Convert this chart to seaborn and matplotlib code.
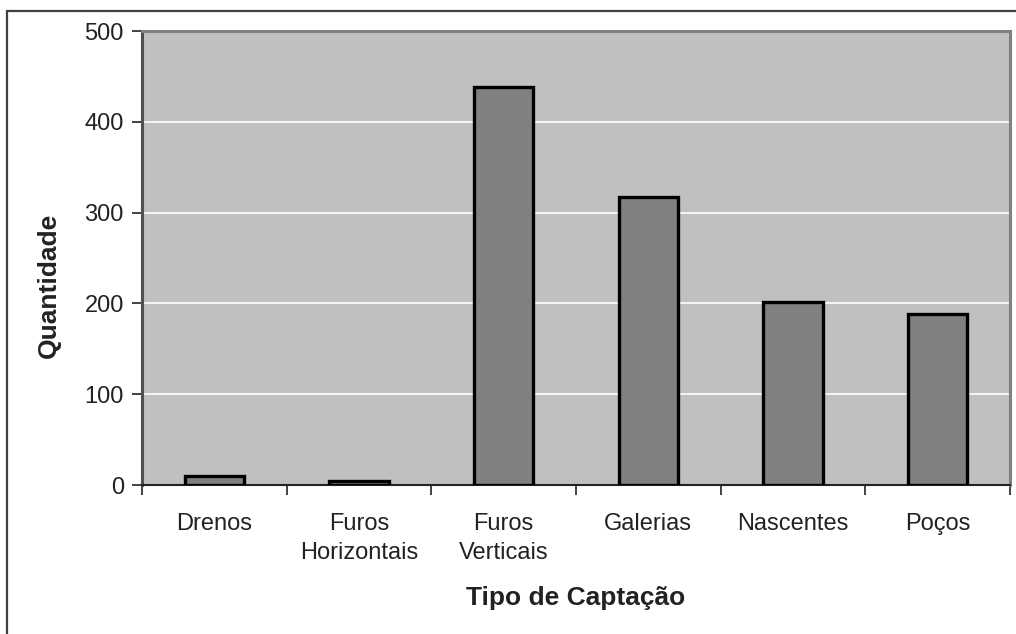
import matplotlib
matplotlib.use("Agg")
import matplotlib.pyplot as plt
import numpy as np
import pandas as pd
import seaborn as sns
from matplotlib.patches import Rectangle

categorias = ["Drenos", "Furos\nHorizontais", "Furos\nVerticais", "Galerias", "Nascentes", "Poços"]
quantidades = [10, 4, 438, 317, 202, 188]
yticks = [0, 100, 200, 300, 400, 500]

sns.set_style("white")
plt.rcParams["font.family"] = ["Liberation Sans", "DejaVu Sans"]

W, H = 1016, 634
fig = plt.figure(figsize=(W / 100, H / 100), dpi=100)
fig.patch.set_facecolor("white")

# plot area in pixels: left 142, right 1010, top 31, bottom 485
ax = fig.add_axes([142 / W, 1 - 485 / H, (1010 - 142) / W, (485 - 31) / H])
ax.set_facecolor("#C0C0C0")

df = pd.DataFrame({"Tipo": categorias, "Quantidade": quantidades})
sns.barplot(data=df, x="Tipo", y="Quantidade", color="#808080", saturation=1,
            edgecolor="black", linewidth=2.4, width=0.41, ax=ax, zorder=3)

ax.set_ylim(0, 500)
ax.set_xlim(-0.5, len(categorias) - 0.5)
ax.set_yticks(yticks)
ax.set_yticklabels([str(v) for v in yticks])
ax.yaxis.grid(True, color="white", linewidth=1.2, zorder=1)
ax.set_axisbelow(True)

# category ticks on boundaries, labels at centres
ax.set_xticks(np.arange(len(categorias)))
ax.set_xticklabels(categorias, linespacing=1.42)
ax.set_xticks(np.arange(len(categorias) + 1) - 0.5, minor=True)
ax.tick_params(axis="x", which="major", length=0, pad=20, labelsize=17,
               colors="#222222", bottom=True)
ax.tick_params(axis="x", which="minor", length=7, width=1.2, color="#222222",
               direction="out", bottom=True)
ax.tick_params(axis="y", length=7, width=1.2, color="#222222", direction="out",
               pad=6, labelsize=17, labelcolor="#222222", left=True)

for side in ["top", "right"]:
    ax.spines[side].set_visible(True)
    ax.spines[side].set_color("#808080")
    ax.spines[side].set_linewidth(2.2)
ax.spines["left"].set_color("#505050")
ax.spines["left"].set_linewidth(2.2)
ax.spines["bottom"].set_color("#222222")
ax.spines["bottom"].set_linewidth(1.5)

ax.set_xlabel("Tipo de Captação", fontsize=19, fontweight="bold", color="#222222")
ax.set_ylabel("Quantidade", fontsize=19, fontweight="bold", color="#222222")
ax.xaxis.set_label_coords(0.5, -0.222)
ax.yaxis.set_label_coords(-0.093, 0.44)

# outer chart frame
fig.patches.append(Rectangle((7 / W, -0.05), 1.1, 1 - 11 / H + 0.05,
                             transform=fig.transFigure, fill=False,
                             edgecolor="#404040", linewidth=1.6))

fig.savefig("out.png", dpi=100, facecolor="white")
